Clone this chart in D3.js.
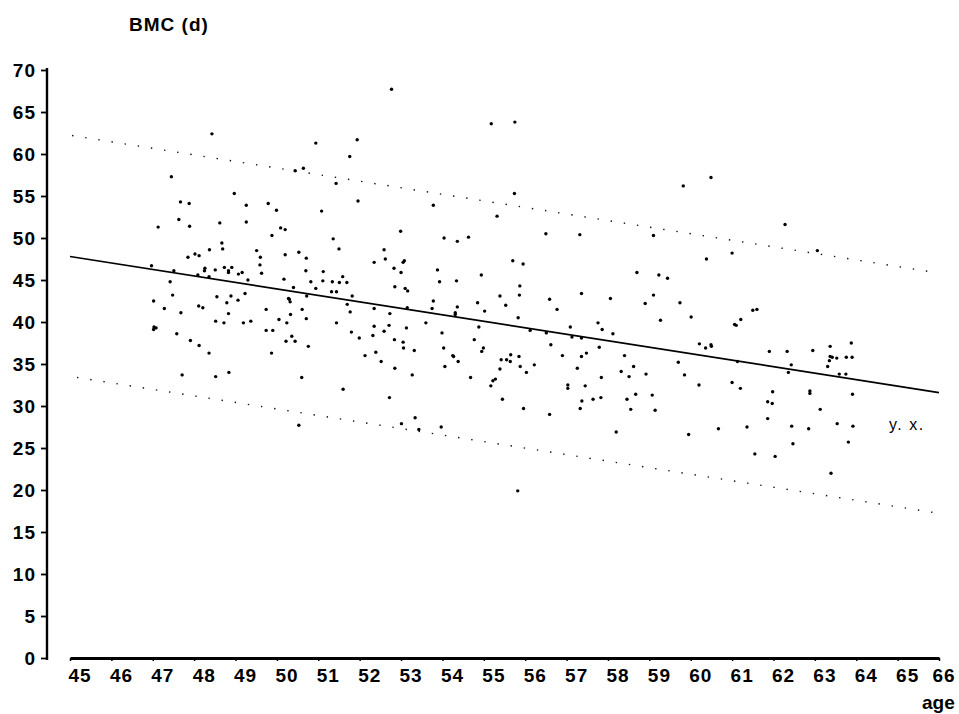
<!DOCTYPE html>
<html>
<head>
<meta charset="utf-8">
<script src="https://cdn.jsdelivr.net/npm/d3@7"></script>
<style>
  body { margin: 0; background: #fff; }
  svg { display: block; }
</style>
</head>
<body>
<svg id="chart" width="959" height="714"></svg>
<script>
// BMC (d) against age, scatter with regression line and limits

const xTicks = d3.range(45, 67);
const yTicks = d3.range(0, 71, 5);

// observed points: age, BMC
const ages = [
  48.43, 50.94, 47.45, 48.97, 47.67, 47.88, 49.26, 49.79, 49.99, 47.63, 47.89, 48.62, 49.26, 47.13, 50.09, 50.20, 49.88, 50.44, 50.64,
  52.77, 55.18, 55.75, 51.94, 51.76, 51.43, 51.96, 53.78, 55.74, 55.32, 51.08, 52.99, 54.04, 54.63, 56.50, 57.32, 51.36,
  60.49, 59.82, 62.28, 59.10,
  46.97, 47.02, 47.28, 47.42, 47.51, 47.48, 47.68, 47.03, 47.08, 47.02, 47.58, 47.71, 47.85, 48.02, 48.12, 48.37, 48.67, 48.69,
  48.26, 48.25, 48.51, 48.09, 48.36, 48.73, 48.91, 48.83, 48.83, 49.07, 49.16, 48.55, 48.89, 48.79, 49.06, 49.23, 49.30,
  48.11, 48.21, 47.91, 48.12, 48.36, 48.52, 48.72, 48.83, 49.19, 49.37, 48.52, 48.84, 49.51, 49.60, 49.59, 49.63, 50.20,
  50.53, 50.71, 50.70, 50.17, 50.40, 50.30, 50.32, 50.28, 49.74, 50.05, 50.24, 50.33, 50.61, 50.71, 50.72, 50.82, 50.94,
  49.74, 49.90, 49.87, 50.22, 50.44, 50.36, 50.76, 50.60, 50.53,
  54.36, 51.50, 52.59, 52.62, 52.35, 53.08, 53.05, 52.83, 53.00, 53.88, 53.93, 54.34, 54.94, 55.70, 55.95, 55.87, 55.86,
  51.12, 51.11, 51.34, 51.51, 51.69, 51.59, 51.32, 51.44, 51.82, 51.70, 51.77, 51.44, 52.35, 52.73, 52.85, 53.10, 53.16,
  53.15, 52.35, 52.71, 52.59, 52.32, 53.13, 51.80, 51.99, 52.84, 53.05, 53.06, 52.39, 52.13, 52.52, 53.32, 52.85, 53.27,
  51.60, 52.72, 53.60, 53.75, 53.78, 53.99, 54.03, 54.25, 54.27, 54.38, 54.06, 54.31, 54.31, 54.36, 54.85, 55.02, 54.88,
  54.77, 54.99, 54.95, 54.68, 55.39, 55.53, 55.83, 56.12, 55.42, 55.55, 55.64, 55.65, 55.85, 55.39, 55.88, 56.03, 56.22,
  55.28, 55.22, 55.17, 55.45, 55.96, 53.34, 53.01, 53.43, 53.97, 56.59, 56.77, 57.36, 58.06, 58.70, 56.51, 56.62, 56.90,
  57.09, 57.13, 57.36, 57.36, 57.48, 57.76, 57.86, 58.12, 57.79, 57.26, 57.03, 57.03, 57.45, 57.84, 58.40, 58.62, 58.32,
  58.51, 58.67, 58.46, 58.55, 57.37, 57.33, 57.64, 57.83, 56.59, 58.20,
  61.00, 63.06, 60.38, 59.23, 59.44, 59.10, 58.90, 59.74, 60.01, 59.27, 61.50, 61.60, 61.21, 61.06, 61.10, 60.21, 60.36,
  60.49, 60.50, 59.70, 59.85, 60.20, 58.92, 59.07, 59.14, 59.95, 60.67, 61.00, 61.20, 61.36, 61.55, 62.04, 61.90, 62.33,
  62.43, 62.36, 61.98, 61.86, 61.97, 61.86, 62.44, 62.47, 62.95, 63.37, 63.37, 63.42, 63.53, 63.35, 63.31, 63.76, 63.90,
  63.88, 63.59, 63.75, 63.91, 62.88, 62.88, 63.13, 62.85, 63.54, 63.92, 63.81, 63.39, 61.13,
  55.82
];
const bmc = [
  62.4, 61.3, 57.3, 55.3, 54.3, 54.1, 53.9, 54.1, 53.3, 52.2, 51.4, 51.8, 51.9, 51.3, 51.2, 51.0, 50.3, 58.0, 58.3,
  67.7, 63.6, 63.8, 61.7, 59.7, 56.5, 54.4, 53.9, 55.3, 52.6, 53.2, 50.8, 50.0, 50.1, 50.5, 50.4, 49.9,
  57.2, 56.2, 51.6, 50.3,
  46.7, 42.5, 41.6, 44.8, 46.1, 43.2, 41.1, 39.4, 39.3, 39.1, 38.6, 33.7, 47.7, 48.1, 47.9, 48.6, 49.4, 48.7,
  46.4, 46.1, 46.2, 45.6, 45.4, 46.5, 46.5, 46.1, 45.9, 45.7, 45.9, 43.0, 43.1, 42.3, 42.6, 43.4, 45.0,
  41.9, 41.7, 37.8, 37.2, 36.3, 40.1, 39.9, 41.0, 39.9, 40.1, 33.5, 34.0, 48.5, 47.7, 46.8, 45.8, 48.0,
  48.3, 47.6, 46.1, 45.1, 44.1, 42.7, 42.4, 42.8, 41.5, 40.3, 39.9, 40.9, 41.5, 40.4, 43.1, 44.8, 44.0,
  39.0, 39.0, 36.3, 37.7, 37.7, 38.3, 37.1, 33.4, 27.7,
  49.6, 48.7, 48.6, 47.5, 47.1, 47.3, 47.1, 46.4, 45.9, 46.2, 44.8, 44.9, 45.6, 47.3, 46.9, 44.3, 43.2,
  46.0, 44.9, 44.8, 44.7, 44.7, 45.4, 43.6, 43.6, 43.1, 42.1, 41.2, 39.9, 41.6, 41.0, 44.2, 44.0, 43.7,
  41.7, 39.5, 39.6, 38.9, 38.4, 39.3, 38.8, 38.1, 37.9, 37.6, 36.9, 36.4, 36.0, 35.3, 36.6, 34.5, 33.7,
  32.0, 31.0, 39.9, 41.6, 42.5, 38.7, 36.9, 36.0, 35.9, 35.3, 34.7, 40.9, 41.1, 41.8, 42.3, 41.3, 39.4,
  37.9, 36.9, 36.5, 33.4, 43.1, 42.0, 40.5, 39.0, 35.5, 35.5, 35.3, 36.1, 35.9, 34.4, 34.7, 34.0, 34.9,
  33.2, 33.0, 32.4, 30.8, 29.7, 28.6, 27.9, 27.2, 27.5, 42.7, 41.5, 43.4, 42.8, 45.9, 38.7, 37.3, 36.0,
  39.4, 38.2, 38.1, 35.9, 36.3, 39.9, 39.1, 38.6, 37.0, 34.5, 32.5, 32.1, 32.4, 33.4, 36.0, 34.7, 34.1,
  33.5, 31.4, 30.8, 29.6, 30.6, 29.7, 30.8, 31.0, 29.0, 26.9,
  48.2, 48.5, 47.5, 45.6, 45.2, 43.2, 42.2, 42.3, 40.6, 40.2, 41.4, 41.5, 40.3, 39.7, 39.6, 37.4, 36.9,
  37.3, 37.1, 35.2, 33.7, 32.5, 33.8, 31.3, 29.5, 26.6, 27.3, 32.8, 32.1, 27.5, 24.3, 24.0, 36.5, 36.5,
  34.9, 34.0, 31.7, 30.5, 30.3, 28.5, 27.6, 25.5, 36.6, 37.1, 35.9, 35.8, 35.7, 35.4, 34.7, 35.8, 35.8,
  37.5, 33.8, 33.8, 31.4, 31.8, 31.5, 29.6, 27.3, 27.9, 27.6, 25.7, 22.0, 35.3,
  19.9
];

// regression line and the two limit lines (end points)
const fitAge = [45, 66];
const fitBmc = [47.8, 31.6];
const upperAge = [45.05, 65.9];
const upperBmc = [62.2, 45.9];
const lowerAge = [45.17, 65.9];
const lowerBmc = [33.4, 17.3];

const svg = d3.select('#chart');
const font = '"Liberation Sans", Arial, Helvetica, sans-serif';

const x = d3.scaleLinear().domain([45, 66]).range([70, 939]);
const y = d3.scaleLinear().domain([0, 70]).range([658, 70]);

// y axis
const yAxis = svg.append('g')
    .attr('transform', 'translate(47,0)')
    .call(d3.axisLeft(y).tickValues(yTicks).tickSize(6).tickPadding(5).tickSizeOuter(0));
yAxis.select('.domain').attr('stroke-width', 2.4).attr('d', `M0,${y(70) - 2}V${y(0) + 2}`);
yAxis.selectAll('.tick line').attr('stroke-width', 1.8);
yAxis.selectAll('.tick text')
    .attr('font-family', font)
    .attr('font-size', '19px')
    .attr('font-weight', 'bold')
    .attr('letter-spacing', '1px')
    .attr('fill', '#000');

// x axis
const xAxis = svg.append('g')
    .attr('transform', 'translate(0,658)')
    .call(d3.axisBottom(x).tickValues(xTicks).tickSize(3).tickSizeOuter(0));
xAxis.select('.domain').attr('stroke-width', 3);
xAxis.selectAll('.tick line').attr('stroke-width', 1.5);
xAxis.selectAll('.tick text')
    .attr('font-family', font)
    .attr('font-size', '19px')
    .attr('font-weight', 'bold')
    .attr('letter-spacing', '1px')
    .attr('fill', '#000')
    .attr('text-anchor', 'start')
    .attr('dx', d => d === 66 ? -7 : -2)
    .attr('y', 11);

// limit lines (dotted)
const line = d3.line().x(d => x(d[0])).y(d => y(d[1]));
[[upperAge, upperBmc], [lowerAge, lowerBmc]].forEach(([a, b]) => {
    svg.append('path')
        .datum(a.map((v, i) => [v, b[i]]))
        .attr('d', line)
        .attr('fill', 'none')
        .attr('stroke', '#111')
        .attr('stroke-width', 1.4)
        .attr('stroke-dasharray', '1.4,11.9');
});

// regression line
svg.append('path')
    .datum(fitAge.map((v, i) => [v, fitBmc[i]]))
    .attr('d', line)
    .attr('fill', 'none')
    .attr('stroke', '#000')
    .attr('stroke-width', 1.7);

// points
svg.append('g')
    .selectAll('circle')
    .data(ages.map((a, i) => [a, bmc[i]]))
    .enter()
    .append('circle')
    .attr('cx', d => x(d[0]))
    .attr('cy', d => y(d[1]))
    .attr('r', 1.7)
    .attr('fill', '#000');

// labels
svg.append('text')
    .attr('x', 129)
    .attr('y', 31)
    .attr('font-family', font)
    .attr('font-size', '19px')
    .attr('font-weight', 'bold')
    .attr('letter-spacing', '1px')
    .text('BMC (d)');

svg.append('text')
    .attr('x', 922)
    .attr('y', 709)
    .attr('font-family', font)
    .attr('font-size', '19px')
    .attr('font-weight', 'bold')
    .text('age');

svg.append('text')
    .attr('x', 889)
    .attr('y', 430)
    .attr('font-family', font)
    .attr('font-size', '16px')
    .attr('letter-spacing', '1.5px')
    .text('y. x.');
</script>
</body>
</html>
